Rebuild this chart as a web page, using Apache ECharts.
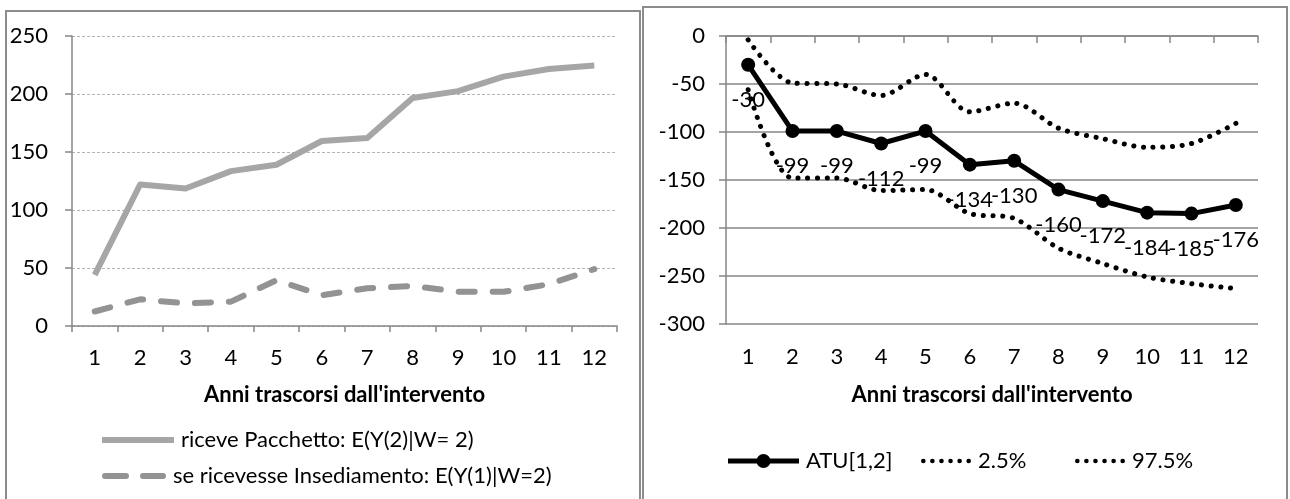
<!DOCTYPE html>
<html><head><meta charset="utf-8">
<script src="https://cdn.jsdelivr.net/npm/echarts@6/dist/echarts.min.js"></script>
<style>html,body{margin:0;padding:0;background:#fff}#c{width:1290px;height:499px}</style>
</head><body><div id="c"></div>
<script>
// ---- data ----
const years = ['1','2','3','4','5','6','7','8','9','10','11','12'];
const pacchetto = [44,122,118.5,133.5,139,159.5,162,196.5,202.5,215,221.5,224.5];
const insediamento = [12.5,23,19.5,21,39.5,26.5,32.5,34.5,29.5,29.5,36,49];
const atu = [-30,-99,-99,-112,-99,-134,-130,-160,-172,-184,-185,-176];
const p025 = [-56,-148,-148,-161,-160,-185,-190,-221,-237,-251,-258,-263];
const p975 = [-4,-49,-50,-62,-40,-79,-70,-96,-107,-116,-112,-91];
const leftRange = {min:0, max:250, step:50};
const rightRange = {min:-300, max:0, step:50};
const xTitle = "Anni trascorsi dall'intervento";
const names = ['riceve Pacchetto: E(Y(2)|W= 2)','se ricevesse Insediamento: E(Y(1)|W=2)','ATU[1,2]','2.5%','97.5%'];

const FONT = 'Lato';
const FS = 22;
const AX = '#868686';
const chart = echarts.init(document.getElementById('c'), null, {renderer:'canvas'});
const txt = {fontFamily:FONT, fontSize:FS, color:'#000'};

// legend icon paths (shape only)
const dashIcon = 'path://M3,0 H24 A3,3 0 0 1 24,6 H3 A3,3 0 0 1 3,0 Z M41,0 H61 A3,3 0 0 1 61,6 H41 A3,3 0 0 1 41,0 Z';
function dotsPath(n, step, r){
  let p = 'path://';
  for (let i=0;i<n;i++){ const cx=r+i*step; p += 'M'+(cx-r)+','+r+' A'+r+','+r+' 0 1 1 '+(cx+r)+','+r+' A'+r+','+r+' 0 1 1 '+(cx-r)+','+r+' Z '; }
  return p;
}
const dotIcon = dotsPath(6, 9.4, 2.4);
const atuIcon = 'path://M0,4.5 H71 V9.5 H0 Z M28.5,7 A7,7 0 1 1 42.5,7 A7,7 0 1 1 28.5,7 Z';

function leg(name, left, cy, icon, w, h, color){
  return {orient:'horizontal', left:left, top:cy-13, padding:0, itemWidth:w, itemHeight:h, itemGap:10,
    data:[{name:name, icon:icon, itemStyle:{color:color, borderWidth:0}}],
    textStyle:Object.assign({},txt,{padding:[0,0,0,2]})};
}

chart.setOption({
  animation:false,
  backgroundColor:'#fff',
  textStyle:{fontFamily:FONT},
  graphic:[
    {type:'rect', shape:{x:6,y:11,width:634,height:520}, style:{fill:'none',stroke:'#8c8c8c',lineWidth:2}},
    {type:'rect', shape:{x:643,y:7,width:644,height:520}, style:{fill:'none',stroke:'#8c8c8c',lineWidth:2}}
  ],
  grid:[
    {left:72, right:1290-617, top:36, bottom:499-326},
    {left:726, right:1290-1258, top:36, bottom:499-324}
  ],
  legend:[
    leg(names[0], 102, 442, 'rect', 72, 6, '#a6a6a6'),
    leg(names[1], 102, 478, dashIcon, 64, 6, '#939393'),
    leg(names[2], 728, 463, atuIcon, 71, 14, '#000'),
    leg(names[3], 921, 463, dotIcon, 50, 4.8, '#000'),
    leg(names[4], 1075, 463, dotIcon, 50, 4.8, '#000')
  ],
  xAxis:[
    {gridIndex:0, type:'category', data:years, boundaryGap:true,
     axisLine:{onZero:false, lineStyle:{color:AX,width:1.5}},
     axisTick:{show:true, length:6, lineStyle:{color:AX,width:1.5}},
     axisLabel:Object.assign({margin:21},txt),
     name:xTitle, nameLocation:'middle', nameGap:58,
     nameTextStyle:{fontFamily:FONT,fontSize:FS,fontWeight:'bold',color:'#000'}},
    {gridIndex:1, type:'category', data:years, boundaryGap:true, position:'bottom',
     axisLine:{show:false, onZero:false}, axisTick:{show:false},
     axisLabel:Object.assign({margin:22},txt),
     name:xTitle, nameLocation:'middle', nameGap:60,
     nameTextStyle:{fontFamily:FONT,fontSize:FS,fontWeight:'bold',color:'#000'}},
    {gridIndex:1, type:'category', data:years, boundaryGap:true, position:'top',
     axisLine:{show:true, onZero:false, lineStyle:{color:AX,width:1.5}},
     axisTick:{show:true, inside:true, length:7, lineStyle:{color:AX,width:1.5}},
     axisLabel:{show:false}}
  ],
  yAxis:[
    {gridIndex:0, type:'value', min:leftRange.min, max:leftRange.max, interval:leftRange.step,
     axisLine:{show:true, lineStyle:{color:AX,width:1.5}},
     axisTick:{show:true, length:7, lineStyle:{color:AX,width:1.5}},
     axisLabel:Object.assign({margin:24},txt),
     splitLine:{show:true, lineStyle:{color:'#b4b4b4', width:1, type:[3,2]}}},
    {gridIndex:1, type:'value', min:rightRange.min, max:rightRange.max, interval:rightRange.step,
     axisLine:{show:true, lineStyle:{color:AX,width:1.5}},
     axisTick:{show:true, length:7, lineStyle:{color:AX,width:1.5}},
     axisLabel:Object.assign({margin:21},txt),
     splitLine:{show:true, lineStyle:{color:AX, width:1.5}}}
  ],
  series:[
    {name:names[0], type:'line', xAxisIndex:0, yAxisIndex:0, data:pacchetto,
     symbol:'none', color:'#a6a6a6', lineStyle:{color:'#a6a6a6', width:6, join:'round'}},
    {name:names[1], type:'line', xAxisIndex:0, yAxisIndex:0, data:insediamento,
     symbol:'none', color:'#939393', lineStyle:{color:'#939393', width:6, type:[16,18], cap:'round', join:'round'}},
    {name:names[3], type:'line', xAxisIndex:1, yAxisIndex:1, data:p025, smooth:0.3,
     symbol:'none', color:'#000', lineStyle:{color:'#000', width:5, type:[0.1,9.6], cap:'round'}},
    {name:names[4], type:'line', xAxisIndex:1, yAxisIndex:1, data:p975, smooth:0.3,
     symbol:'none', color:'#000', lineStyle:{color:'#000', width:5, type:[0.1,9.6], cap:'round'}},
    {name:names[2], type:'line', xAxisIndex:1, yAxisIndex:1, data:atu,
     symbol:'circle', symbolSize:14, color:'#000',
     itemStyle:{color:'#000'}, lineStyle:{color:'#000', width:5},
     label:{show:true, position:'bottom', distance:17, fontFamily:FONT, fontSize:FS, color:'#000'}}
  ]
});
</script></body></html>
